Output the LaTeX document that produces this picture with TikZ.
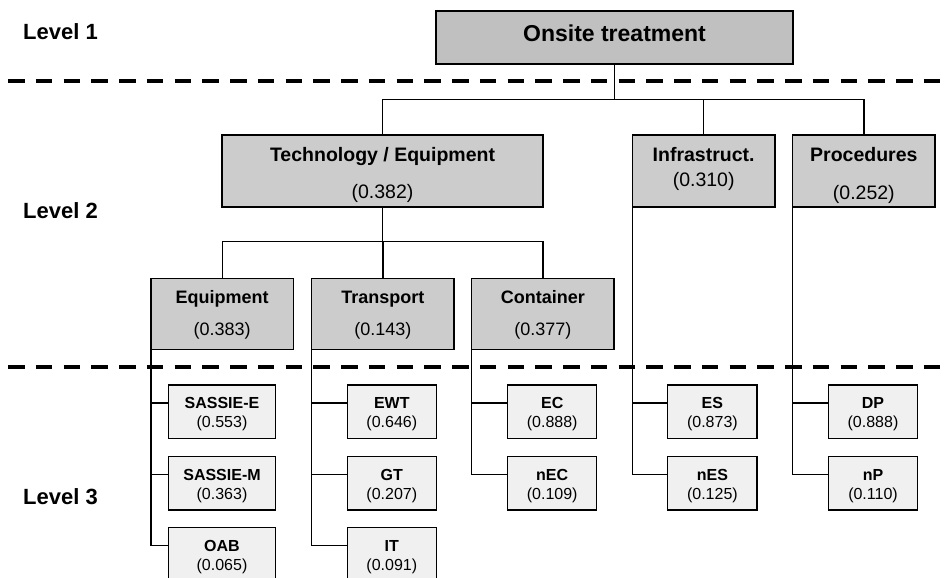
\documentclass[tikz,border=0pt]{standalone}
\usepackage{fontspec}
\setmainfont{Liberation Sans}
\definecolor{goalfill}{RGB}{192,192,192}
\definecolor{critfill}{RGB}{204,204,204}
\definecolor{leaffill}{RGB}{240,240,240}

% box with a bold title and a weight below it, baselines measured from the top edge
\newcommand\mkbox[9]{%
  \node[#1, minimum width=#4, minimum height=#5, anchor=north west] (#2) at (#3) {};
  \node[#1 text, anchor=base] (#2-title) at ([yshift=-#8]#2.north) {\bfseries #6};
  \node[#1 text, anchor=base] (#2-value) at ([yshift=-#9]#2.north) {#7};
}

\begin{document}
\begin{tikzpicture}[x=1pt,y=-1pt,
  boxline/.style={draw=black, line width=1.3pt, inner sep=0pt, outer sep=0pt},
  goal/.style={boxline, fill=goalfill},
  crit/.style={boxline, fill=critfill},
  sub/.style={boxline, fill=critfill},
  leaf/.style={boxline, fill=leaffill},
  goal text/.style={inner sep=0pt, font=\fontsize{23}{27}\selectfont},
  crit text/.style={inner sep=0pt, font=\fontsize{19.5}{23}\selectfont},
  sub text/.style={inner sep=0pt, font=\fontsize{18}{21}\selectfont},
  leaf text/.style={inner sep=0pt, font=\fontsize{16}{19}\selectfont},
  level/.style={inner sep=0pt, anchor=base west, font=\fontsize{22}{26}\selectfont\bfseries},
  link/.style={draw=black, line width=1.3pt},
  levelsep/.style={draw=black, line width=4.2pt, dash pattern=on 16.5pt off 11.25pt}]

\useasboundingbox (0,0) rectangle (945,578);
\clip (0,0) rectangle (945,578);

% level separators
\coordinate (sep1a) at (8,81);   \coordinate (sep1b) at (940,81);
\coordinate (sep2a) at (8,367);  \coordinate (sep2b) at (940,367);
\draw[levelsep] (sep1a) -- (sep1b);
\draw[levelsep] (sep2a) -- (sep2b);

% level labels
\node[level] (lev1) at (23,40) {Level 1};
\node[level] (lev2) at (23,218.3) {Level 2};
\node[level] (lev3) at (23,504) {Level 3};

% level 1
\node[goal, minimum width=357pt, minimum height=53pt, anchor=north west] (onsite) at (436,11) {};
\node[goal text, anchor=base] (onsite-title) at ([yshift=-30.7pt]onsite.north) {\bfseries Onsite treatment};

% level 2
\mkbox{crit}{tech}{222,135}{321pt}{72pt}{Technology / Equipment}{(0.382)}{26.7pt}{63.5pt}
\mkbox{crit}{infra}{632.3,135}{142.7pt}{72pt}{Infrastruct.}{(0.310)}{26.7pt}{51.7pt}
\mkbox{crit}{proc}{792.7,135}{142.3pt}{72pt}{Procedures}{(0.252)}{26.7pt}{64.5pt}

\mkbox{sub}{equip}{151,278.3}{142.3pt}{71pt}{Equipment}{(0.383)}{25pt}{56.7pt}
\mkbox{sub}{trans}{311.7,278.3}{142.3pt}{71pt}{Transport}{(0.143)}{25pt}{56.7pt}
\mkbox{sub}{cont}{471.7,278.3}{142.3pt}{71pt}{Container}{(0.377)}{25pt}{56.7pt}

% level 3
\mkbox{leaf}{sassiee}{168.3,385}{107.4pt}{53.3pt}{SASSIE-E}{(0.553)}{23.3pt}{42.5pt}
\mkbox{leaf}{sassiem}{168.3,456.7}{107.4pt}{53.3pt}{SASSIE-M}{(0.363)}{23.3pt}{42.5pt}
\mkbox{leaf}{oab}{168.3,527.7}{107.4pt}{53.3pt}{OAB}{(0.065)}{23.3pt}{42.5pt}

\mkbox{leaf}{ewt}{347.3,385}{89pt}{53.3pt}{EWT}{(0.646)}{23.3pt}{42.5pt}
\mkbox{leaf}{gt}{347.3,456.7}{89pt}{53.3pt}{GT}{(0.207)}{23.3pt}{42.5pt}
\mkbox{leaf}{it}{347.3,527.7}{89pt}{53.3pt}{IT}{(0.091)}{23.3pt}{42.5pt}

\mkbox{leaf}{ec}{507.7,385}{89pt}{53.3pt}{EC}{(0.888)}{23.3pt}{42.5pt}
\mkbox{leaf}{nec}{507.7,456.7}{89pt}{53.3pt}{nEC}{(0.109)}{23.3pt}{42.5pt}

\mkbox{leaf}{es}{667.7,385}{89.4pt}{53.3pt}{ES}{(0.873)}{23.3pt}{42.5pt}
\mkbox{leaf}{nes}{667.7,456.7}{89.4pt}{53.3pt}{nES}{(0.125)}{23.3pt}{42.5pt}

\mkbox{leaf}{dp}{828.3,385}{89.4pt}{53.3pt}{DP}{(0.888)}{23.3pt}{42.5pt}
\mkbox{leaf}{np}{828.3,456.7}{89.4pt}{53.3pt}{nP}{(0.110)}{23.3pt}{42.5pt}

% connectors: level 1 to level 2
\coordinate (bus1) at (614.5,99.3);
\draw[link] (onsite.south) -- (bus1);
\draw[link] (tech.north) |- (bus1) -| (proc.north);
\draw[link] (infra.north) -- (infra.north |- bus1);

% connectors: technology to its sub-criteria
\coordinate (bus2) at (382.5,241.7);
\draw[link] (tech.south) -- (bus2);
\draw[link] (equip.north) |- (bus2) -| (cont.north);
\draw[link] (trans.north) -- (trans.north |- bus2);

% connectors: level 2 to level 3 (side rails)
\foreach \parent/\lastkid in {equip/oab, trans/it, cont/nec, infra/nes, proc/np}
  \draw[link] (\parent.south west) |- ([yshift=-18pt]\lastkid.north west);
\foreach \parent/\kid in {equip/sassiee, equip/sassiem, trans/ewt, trans/gt, cont/ec, infra/es, proc/dp}
  \draw[link] ([yshift=-18pt]\kid.north west) -- ([yshift=-18pt]\kid.north west -| \parent.south west);

\end{tikzpicture}
\end{document}
